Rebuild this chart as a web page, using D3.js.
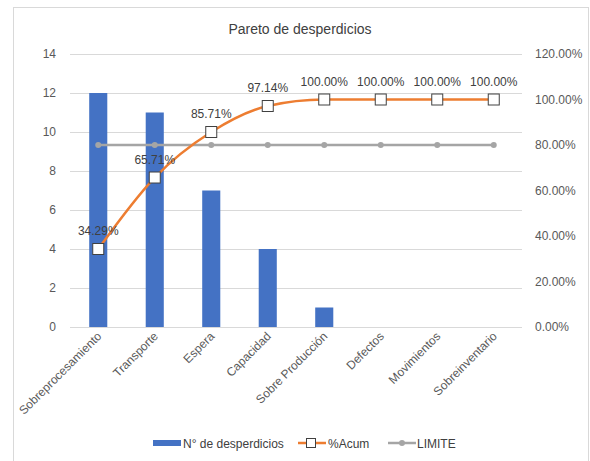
<!DOCTYPE html>
<html>
<head>
<meta charset="utf-8">
<script src="https://cdn.jsdelivr.net/npm/d3@7"></script>
<style>
  body { margin: 0; background: #fff; }
  svg { font-family: "Liberation Sans", Arial, sans-serif; }
</style>
</head>
<body>
<svg id="chart" width="590" height="461"></svg>
<script>
// data
let categories = ["Sobreprocesamiento", "Transporte", "Espera", "Capacidad",
  "Sobre Producción", "Defectos", "Movimientos", "Sobreinventario"];
let counts = [12, 11, 7, 4, 1, 0, 0, 0];
let cumPct = [34.29, 65.71, 85.71, 97.14, 100, 100, 100, 100];
let limite = [80, 80, 80, 80, 80, 80, 80, 80];
let leftTicks = [0, 2, 4, 6, 8, 10, 12, 14];
let rightTicks = [0, 20, 40, 60, 80, 100, 120];

let svg = d3.select("#chart");

// outer chart border
svg.append("rect")
  .attr("x", 13.5).attr("y", 7.5)
  .attr("width", 575).attr("height", 460)
  .attr("fill", "#fff")
  .attr("stroke", "#d9d9d9");

let margin = {top: 54, left: 70, right: 68, bottom: 134};
let plotWidth = 590 - margin.left - margin.right;
let plotHeight = 461 - margin.top - margin.bottom;

let plot = svg.append("g")
  .attr("transform", "translate(" + margin.left + "," + margin.top + ")");

let x = d3.scaleBand()
  .domain(categories)
  .range([0, plotWidth])
  .paddingInner(0.68)
  .paddingOuter(0.34);

let xCenter = d => x(d) + x.bandwidth() / 2;

let yLeft = d3.scaleLinear().domain([0, 14]).range([plotHeight, 0]);
let yRight = d3.scaleLinear().domain([0, 120]).range([plotHeight, 0]);

// gridlines
plot.append("g")
  .selectAll("line")
  .data(leftTicks)
  .join("line")
    .attr("x1", 0).attr("x2", plotWidth)
    .attr("y1", d => yLeft(d) + 0.5).attr("y2", d => yLeft(d) + 0.5)
    .attr("stroke", "#d9d9d9")
    .attr("stroke-width", 1);

// left axis
let leftAxis = plot.append("g")
  .call(d3.axisLeft(yLeft).tickValues(leftTicks).tickSize(0).tickPadding(14));
leftAxis.select(".domain").remove();
leftAxis.selectAll("text")
  .attr("font-size", 12).attr("fill", "#595959")
  .style("font-family", "Liberation Sans, Arial, sans-serif");

// right axis
let rightAxis = plot.append("g")
  .attr("transform", "translate(" + plotWidth + ",0)")
  .call(d3.axisRight(yRight).tickValues(rightTicks).tickSize(0).tickPadding(13)
    .tickFormat(d => d.toFixed(2) + "%"));
rightAxis.select(".domain").remove();
rightAxis.selectAll("text")
  .attr("font-size", 12).attr("fill", "#595959")
  .style("font-family", "Liberation Sans, Arial, sans-serif");

// x axis labels (rotated)
let xAxis = plot.append("g")
  .attr("transform", "translate(0," + plotHeight + ")")
  .call(d3.axisBottom(x).tickSize(0).tickPadding(0));
xAxis.select(".domain").remove();
xAxis.selectAll("text")
  .attr("font-size", 12).attr("fill", "#595959")
  .style("font-family", "Liberation Sans, Arial, sans-serif")
  .attr("text-anchor", "end")
  .attr("dy", null).attr("y", 0)
  .attr("transform", "translate(4,10) rotate(-45)");

// bars
plot.append("g")
  .selectAll("rect")
  .data(categories)
  .join("rect")
    .attr("x", d => x(d))
    .attr("y", (d, i) => yLeft(counts[i]))
    .attr("width", x.bandwidth())
    .attr("height", (d, i) => yLeft(0) - yLeft(counts[i]))
    .attr("fill", "#4472c4");

// LIMITE line
let limLine = d3.line()
  .x((d, i) => xCenter(categories[i]))
  .y(d => yRight(d));

plot.append("path")
  .datum(limite)
  .attr("d", limLine)
  .attr("fill", "none")
  .attr("stroke", "#a5a5a5")
  .attr("stroke-width", 2.5);

plot.append("g")
  .selectAll("circle")
  .data(limite)
  .join("circle")
    .attr("cx", (d, i) => xCenter(categories[i]))
    .attr("cy", d => yRight(d))
    .attr("r", 3)
    .attr("fill", "#a5a5a5");

// %Acum line
plot.append("path")
  .datum(cumPct)
  .attr("d", d3.line()
    .x((d, i) => xCenter(categories[i]))
    .y(d => yRight(d))
    .curve(d3.curveMonotoneX))
  .attr("fill", "none")
  .attr("stroke", "#ed7d31")
  .attr("stroke-width", 2.5);

plot.append("g")
  .selectAll("rect")
  .data(cumPct)
  .join("rect")
    .attr("x", (d, i) => xCenter(categories[i]) - 5.5)
    .attr("y", d => yRight(d) - 5.5)
    .attr("width", 11).attr("height", 11)
    .attr("fill", "#fff")
    .attr("stroke", "#404040")
    .attr("stroke-width", 1);

// data labels
plot.append("g")
  .selectAll("text")
  .data(cumPct)
  .join("text")
    .attr("x", (d, i) => xCenter(categories[i]))
    .attr("y", d => yRight(d) - 14)
    .attr("text-anchor", "middle")
    .attr("font-size", 12)
    .attr("fill", "#404040")
    .text(d => d.toFixed(2) + "%");

// title
svg.append("text")
  .attr("x", 300).attr("y", 34)
  .attr("text-anchor", "middle")
  .attr("font-size", 14)
  .attr("fill", "#404040")
  .text("Pareto de desperdicios");

// legend
let legend = svg.append("g").attr("transform", "translate(0,443)");
legend.append("rect")
  .attr("x", 153).attr("y", -3).attr("width", 28).attr("height", 6)
  .attr("fill", "#4472c4");
legend.append("text")
  .attr("x", 183).attr("y", 4.5)
  .attr("font-size", 12).attr("fill", "#404040")
  .text("N° de desperdicios");

legend.append("line")
  .attr("x1", 298).attr("x2", 326).attr("y1", 0).attr("y2", 0)
  .attr("stroke", "#ed7d31").attr("stroke-width", 2.5);
legend.append("rect")
  .attr("x", 306.5).attr("y", -4.5).attr("width", 9).attr("height", 9)
  .attr("fill", "#fff").attr("stroke", "#404040");
legend.append("text")
  .attr("x", 328).attr("y", 4.5)
  .attr("font-size", 12).attr("fill", "#404040")
  .text("%Acum");

legend.append("line")
  .attr("x1", 388).attr("x2", 416).attr("y1", 0).attr("y2", 0)
  .attr("stroke", "#a5a5a5").attr("stroke-width", 2.5);
legend.append("circle")
  .attr("cx", 402).attr("cy", 0).attr("r", 3)
  .attr("fill", "#a5a5a5");
legend.append("text")
  .attr("x", 417).attr("y", 4.5)
  .attr("font-size", 12).attr("fill", "#404040")
  .text("LIMITE");
</script>
</body>
</html>
